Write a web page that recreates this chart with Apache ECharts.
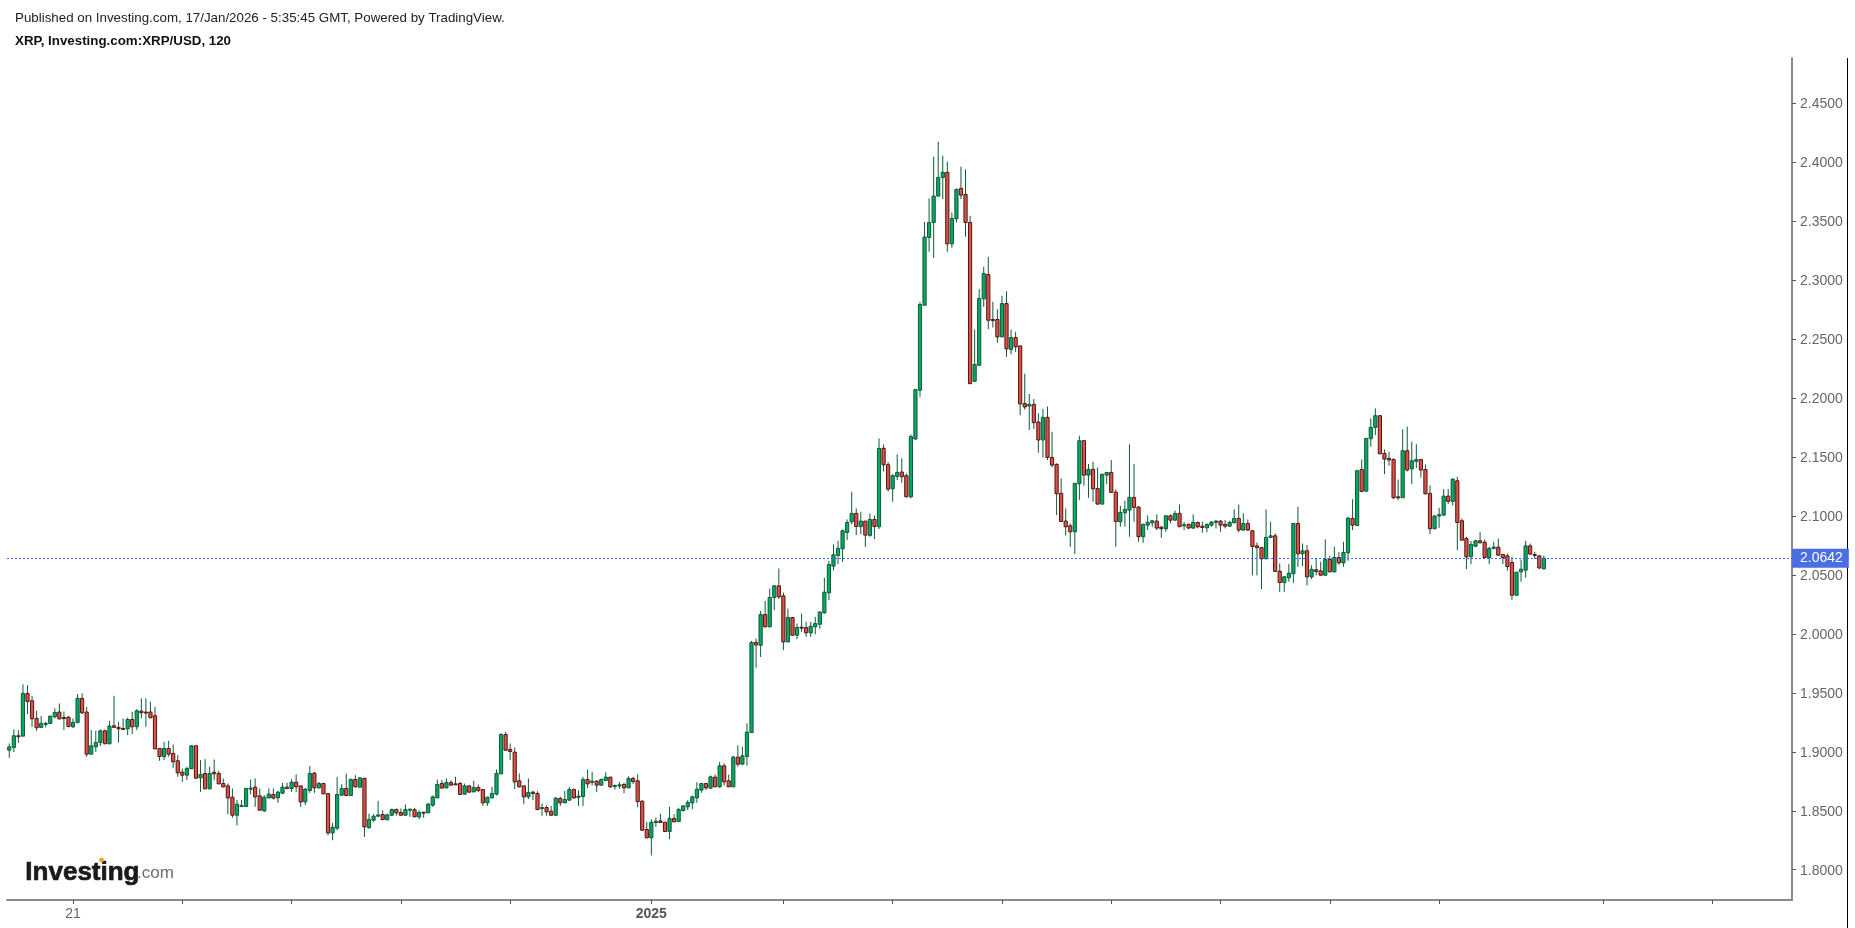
<!DOCTYPE html>
<html>
<head>
<meta charset="utf-8">
<title>XRP/USD</title>
<script src="https://cdn.jsdelivr.net/npm/echarts@6/dist/echarts.min.js"></script>
<style>
html, body { margin: 0; padding: 0; background: #fff; }
#chart { width: 1855px; height: 928px; }
</style>
</head>
<body>
<div id="chart"></div>
<script>
// 2h candles, oldest first
var opens = [
1.9014,1.9037,1.9136,1.9133,1.9495,1.9433,1.9283,1.9207,1.9235,1.9241,
1.9297,1.9337,1.9291,1.9294,1.9212,1.9249,1.9453,1.9337,1.8980,1.9042,
1.9079,1.9178,1.9068,1.9221,1.9207,1.9198,1.9195,1.9274,1.9212,1.9345,
1.9337,1.9337,1.9306,1.9028,1.8960,1.9028,1.8986,1.8924,1.8827,1.8802,
1.8856,1.9051,1.8779,1.8816,1.8686,1.8827,1.8816,1.8731,1.8711,1.8615,
1.8462,1.8536,1.8536,1.8683,1.8700,1.8626,1.8499,1.8609,1.8638,1.8609,
1.8649,1.8700,1.8689,1.8742,1.8711,1.8575,1.8672,1.8819,1.8694,1.8731,
1.8646,1.8312,1.8352,1.8632,1.8689,1.8629,1.8765,1.8700,1.8776,1.8358,
1.8420,1.8454,1.8468,1.8423,1.8462,1.8510,1.8485,1.8462,1.8508,1.8508,
1.8448,1.8488,1.8482,1.8547,1.8609,1.8731,1.8694,1.8740,1.8728,1.8731,
1.8641,1.8711,1.8660,1.8697,1.8680,1.8567,1.8609,1.8641,1.8813,1.9147,
1.9020,1.8997,1.8754,1.8711,1.8618,1.8658,1.8646,1.8519,1.8527,1.8496,
1.8462,1.8604,1.8567,1.8590,1.8680,1.8612,1.8621,1.8765,1.8740,1.8751,
1.8717,1.8757,1.8785,1.8708,1.8711,1.8723,1.8694,1.8774,1.8754,1.8581,
1.8341,1.8270,1.8400,1.8414,1.8403,1.8324,1.8434,1.8408,1.8502,1.8533,
1.8567,1.8609,1.8675,1.8731,1.8692,1.8785,1.8703,1.8881,1.8754,1.8703,
1.8955,1.8895,1.8960,1.9164,1.9928,1.9904,2.0164,2.0060,2.0309,2.0408,
2.0323,1.9932,2.0139,1.9989,2.0057,2.0054,2.0009,2.0060,2.0082,2.0178,
2.0348,2.0575,2.0665,2.0722,2.0860,2.0951,2.1022,2.0911,2.0957,2.0835,
2.0971,2.0909,2.1574,2.1435,2.1231,2.1336,2.1373,2.1342,2.1163,2.1653,
2.2067,2.2788,2.3363,2.3490,2.3714,2.3872,2.3915,2.3309,2.3521,2.3779,
2.3728,2.3490,2.2143,2.2279,2.2842,2.3049,2.2667,2.2667,2.2519,2.2802,
2.2412,2.2514,2.2443,2.1954,2.1933,2.1947,2.1797,2.1645,2.1837,2.1497,
2.1438,2.1192,2.0957,2.0917,2.0866,2.1274,2.1639,2.1347,2.1396,2.1234,
2.1101,2.1347,2.1370,2.1203,2.0951,2.1028,2.1050,2.1158,2.1076,2.0824,
2.0923,2.0943,2.0957,2.0906,2.0892,2.1002,2.0965,2.1022,2.0917,2.0929,
2.0898,2.0946,2.0914,2.0900,2.0923,2.0946,2.0957,2.0929,2.0914,2.0943,
2.0980,2.0881,2.0937,2.0875,2.0747,2.0733,2.0637,2.0818,2.0832,2.0532,
2.0436,2.0476,2.0510,2.0937,2.0680,2.0705,2.0484,2.0544,2.0535,2.0498,
2.0631,2.0526,2.0648,2.0603,2.0688,2.0979,2.0920,2.1395,2.1211,2.1656,
2.1752,2.1851,2.1531,2.1489,2.1480,2.1163,2.1155,2.1554,2.1401,2.1463,
2.1480,2.1395,2.1192,2.0892,2.1000,2.1008,2.1169,2.1124,2.1299,2.0960,
2.0810,2.0654,2.0744,2.0790,2.0778,2.0648,2.0725,2.0736,2.0674,2.0662,
2.0606,2.0328,2.0527,2.0541,2.0747,2.0674,2.0662,2.0552
];
var closes = [
1.9042,1.9136,1.9130,1.9495,1.9427,1.9280,1.9204,1.9241,1.9241,1.9303,
1.9334,1.9280,1.9286,1.9215,1.9249,1.9453,1.9331,1.8980,1.9051,1.9079,
1.9178,1.9068,1.9218,1.9207,1.9195,1.9192,1.9274,1.9212,1.9348,1.9331,
1.9331,1.9289,1.9025,1.8960,1.9028,1.8980,1.8915,1.8822,1.8802,1.8858,
1.9051,1.8776,1.8808,1.8686,1.8816,1.8813,1.8728,1.8703,1.8609,1.8462,
1.8556,1.8544,1.8689,1.8692,1.8618,1.8505,1.8615,1.8641,1.8607,1.8658,
1.8700,1.8689,1.8742,1.8703,1.8575,1.8683,1.8816,1.8694,1.8731,1.8643,
1.8312,1.8360,1.8638,1.8689,1.8629,1.8765,1.8703,1.8779,1.8363,1.8425,
1.8454,1.8465,1.8425,1.8465,1.8510,1.8482,1.8462,1.8510,1.8513,1.8448,
1.8485,1.8482,1.8556,1.8618,1.8723,1.8692,1.8740,1.8717,1.8723,1.8638,
1.8711,1.8658,1.8697,1.8672,1.8567,1.8615,1.8646,1.8816,1.9147,1.9014,
1.9003,1.8745,1.8703,1.8618,1.8655,1.8646,1.8510,1.8527,1.8491,1.8462,
1.8607,1.8567,1.8595,1.8680,1.8609,1.8624,1.8765,1.8728,1.8751,1.8717,
1.8765,1.8785,1.8703,1.8714,1.8720,1.8694,1.8774,1.8748,1.8578,1.8335,
1.8270,1.8403,1.8411,1.8400,1.8324,1.8434,1.8406,1.8510,1.8541,1.8570,
1.8618,1.8683,1.8731,1.8694,1.8788,1.8703,1.8881,1.8745,1.8703,1.8955,
1.8895,1.8966,1.9167,1.9928,1.9906,2.0164,2.0060,2.0309,2.0408,2.0314,
1.9932,2.0139,1.9989,2.0054,2.0051,2.0009,2.0065,2.0088,2.0184,2.0354,
2.0589,2.0671,2.0725,2.0875,2.0945,2.1022,2.0911,2.0957,2.0838,2.0971,
2.0911,2.1574,2.1435,2.1228,2.1342,2.1370,2.1333,2.1163,2.1673,2.2072,
2.2794,2.3366,2.3490,2.3714,2.3872,2.3915,2.3309,2.3524,2.3770,2.3722,
2.3490,2.2123,2.2285,2.2845,2.3057,2.2661,2.2658,2.2519,2.2802,2.2418,
2.2514,2.2435,2.1951,2.1925,2.1947,2.1792,2.1645,2.1837,2.1497,2.1432,
2.1189,2.0954,2.0909,2.0866,2.1277,2.1639,2.1347,2.1396,2.1231,2.1101,
2.1353,2.1370,2.1200,2.0954,2.1031,2.1056,2.1158,2.1073,2.0824,2.0929,
2.0946,2.0960,2.0898,2.0892,2.1002,2.0965,2.1022,2.0909,2.0926,2.0898,
2.0946,2.0909,2.0903,2.0929,2.0948,2.0957,2.0923,2.0914,2.0946,2.0980,
2.0881,2.0937,2.0881,2.0742,2.0731,2.0637,2.0818,2.0832,2.0530,2.0436,
2.0484,2.0515,2.0937,2.0680,2.0705,2.0484,2.0547,2.0530,2.0498,2.0631,
2.0526,2.0648,2.0603,2.0691,2.0982,2.0923,2.1384,2.1209,2.1659,2.1752,
2.1851,2.1528,2.1483,2.1475,2.1155,2.1155,2.1554,2.1390,2.1469,2.1480,
2.1390,2.1189,2.0892,2.1000,2.1011,2.1169,2.1124,2.1313,2.0945,2.0795,
2.0654,2.0759,2.0790,2.0773,2.0648,2.0725,2.0736,2.0668,2.0648,2.0572,
2.0328,2.0524,2.0549,2.0747,2.0677,2.0668,2.0560,2.0642
];
var lows = [
1.8949,1.8999,1.9076,1.9133,1.9320,1.9212,1.9178,1.9207,1.9207,1.9235,
1.9283,1.9274,1.9184,1.9207,1.9201,1.9241,1.9320,1.8958,1.8980,1.8999,
1.9048,1.9065,1.9065,1.9207,1.9079,1.9190,1.9141,1.9150,1.9184,1.9283,
1.9212,1.9283,1.9025,1.8924,1.8929,1.8958,1.8864,1.8788,1.8745,1.8759,
1.8856,1.8771,1.8660,1.8683,1.8683,1.8759,1.8725,1.8697,1.8471,1.8440,
1.8375,1.8533,1.8533,1.8641,1.8533,1.8502,1.8488,1.8604,1.8595,1.8567,
1.8641,1.8683,1.8660,1.8658,1.8533,1.8547,1.8652,1.8652,1.8689,1.8641,
1.8292,1.8250,1.8335,1.8632,1.8626,1.8626,1.8697,1.8697,1.8278,1.8346,
1.8406,1.8448,1.8420,1.8420,1.8457,1.8459,1.8459,1.8459,1.8448,1.8448,
1.8428,1.8440,1.8482,1.8533,1.8609,1.8689,1.8689,1.8714,1.8717,1.8632,
1.8638,1.8652,1.8658,1.8658,1.8541,1.8541,1.8607,1.8629,1.8810,1.9008,
1.8929,1.8683,1.8697,1.8556,1.8598,1.8590,1.8505,1.8457,1.8457,1.8457,
1.8454,1.8541,1.8564,1.8584,1.8601,1.8541,1.8541,1.8692,1.8714,1.8658,
1.8711,1.8751,1.8694,1.8680,1.8686,1.8649,1.8694,1.8725,1.8530,1.8329,
1.8267,1.8120,1.8363,1.8397,1.8321,1.8259,1.8403,1.8406,1.8493,1.8505,
1.8513,1.8567,1.8652,1.8675,1.8686,1.8700,1.8694,1.8714,1.8700,1.8703,
1.8873,1.8895,1.8884,1.9161,1.9713,1.9805,2.0054,2.0060,2.0201,2.0295,
1.9862,1.9932,1.9986,1.9955,2.0017,1.9975,1.9975,1.9997,2.0043,2.0173,
2.0286,2.0538,2.0592,2.0611,2.0795,2.0931,2.0838,2.0846,2.0739,2.0824,
2.0804,2.0889,2.1378,2.1206,2.1121,2.1305,2.1282,2.1158,2.1149,2.1650,
2.2010,2.2788,2.3241,2.3190,2.3708,2.3688,2.3241,2.3275,2.3490,2.3688,
2.3369,2.2118,2.2137,2.2276,2.2774,2.2585,2.2599,2.2469,2.2519,2.2350,
2.2372,2.2392,2.1855,2.1903,2.1730,2.1738,2.1537,2.1497,2.1475,2.1413,
2.1008,2.0951,2.0835,2.0739,2.0677,2.1135,2.1257,2.1155,2.1121,2.1098,
2.1101,2.1271,2.1197,2.0739,2.0909,2.0909,2.0824,2.0951,2.0781,2.0773,
2.0881,2.0909,2.0881,2.0815,2.0866,2.0937,2.0960,2.0909,2.0881,2.0889,
2.0889,2.0895,2.0858,2.0863,2.0909,2.0895,2.0866,2.0895,2.0909,2.0937,
2.0861,2.0875,2.0875,2.0496,2.0496,2.0380,2.0634,2.0815,2.0527,2.0357,
2.0357,2.0442,2.0433,2.0569,2.0575,2.0411,2.0465,2.0496,2.0490,2.0495,
2.0524,2.0524,2.0583,2.0569,2.0620,2.0880,2.0914,2.1206,2.1206,2.1588,
2.1687,2.1523,2.1356,2.1427,2.1143,2.1135,2.1155,2.1378,2.1271,2.1407,
2.1325,2.1183,2.0846,2.0889,2.0900,2.1002,2.1101,2.1090,2.0711,2.0795,
2.0549,2.0592,2.0739,2.0767,2.0645,2.0592,2.0716,2.0665,2.0592,2.0535,
2.0286,2.0326,2.0442,2.0478,2.0671,2.0637,2.0549,2.0549
];
var highs = [
1.9071,1.9190,1.9184,1.9572,1.9566,1.9475,1.9348,1.9303,1.9255,1.9303,
1.9368,1.9410,1.9342,1.9303,1.9283,1.9490,1.9495,1.9382,1.9184,1.9178,
1.9190,1.9190,1.9263,1.9475,1.9255,1.9283,1.9289,1.9340,1.9362,1.9453,
1.9453,1.9424,1.9382,1.9028,1.9085,1.9093,1.9062,1.8972,1.8858,1.8873,
1.9051,1.9051,1.8929,1.8938,1.8873,1.8935,1.8839,1.8774,1.8731,1.8689,
1.8590,1.8590,1.8689,1.8765,1.8774,1.8689,1.8632,1.8689,1.8689,1.8669,
1.8737,1.8737,1.8768,1.8808,1.8711,1.8694,1.8881,1.8830,1.8745,1.8731,
1.8646,1.8397,1.8788,1.8725,1.8816,1.8774,1.8802,1.8788,1.8776,1.8476,
1.8471,1.8584,1.8505,1.8476,1.8519,1.8519,1.8519,1.8553,1.8519,1.8525,
1.8505,1.8488,1.8567,1.8629,1.8765,1.8759,1.8774,1.8759,1.8788,1.8745,
1.8731,1.8717,1.8754,1.8723,1.8680,1.8618,1.8703,1.8850,1.9156,1.9167,
1.9071,1.9037,1.8816,1.8711,1.8774,1.8669,1.8666,1.8561,1.8547,1.8541,
1.8618,1.8618,1.8669,1.8703,1.8689,1.8674,1.8788,1.8850,1.8830,1.8759,
1.8774,1.8827,1.8788,1.8723,1.8745,1.8737,1.8793,1.8788,1.8808,1.8590,
1.8406,1.8428,1.8442,1.8476,1.8403,1.8533,1.8471,1.8525,1.8547,1.8590,
1.8629,1.8742,1.8731,1.8737,1.8799,1.8808,1.8915,1.8901,1.8808,1.8966,
1.9054,1.9042,1.9241,1.9940,1.9960,2.0195,2.0280,2.0385,2.0413,2.0555,
2.0351,2.0215,2.0139,2.0088,2.0173,2.0102,2.0102,2.0145,2.0195,2.0476,
2.0620,2.0759,2.0790,2.0886,2.0971,2.1206,2.1064,2.1036,2.0957,2.1022,
2.1005,2.1659,2.1608,2.1458,2.1356,2.1523,2.1489,2.1361,2.1692,2.2072,
2.2817,2.3496,2.3694,2.4048,2.4175,2.4056,2.4005,2.3575,2.3779,2.3963,
2.3940,2.3547,2.2582,2.2924,2.3114,2.3199,2.2817,2.2754,2.2868,2.2907,
2.2582,2.2562,2.2443,2.2208,2.2035,2.1993,2.1871,2.1908,2.1928,2.1715,
2.1447,2.1319,2.1064,2.0937,2.1277,2.1681,2.1645,2.1441,2.1461,2.1413,
2.1362,2.1370,2.1475,2.1226,2.1087,2.1130,2.1608,2.1441,2.1084,2.0937,
2.1005,2.0965,2.1014,2.0914,2.1008,2.1014,2.1045,2.1098,2.0951,2.0937,
2.1014,2.0951,2.0951,2.0937,2.0957,2.0965,2.0965,2.0965,2.0957,2.1056,
2.1098,2.1022,2.0971,2.0875,2.0776,2.0733,2.1056,2.0951,2.0852,2.0598,
2.0493,2.0592,2.0937,2.1079,2.0767,2.0753,2.0583,2.0646,2.0612,2.0801,
2.0660,2.0739,2.0694,2.0781,2.0993,2.1143,2.1390,2.1480,2.1659,2.1828,
2.1913,2.1851,2.1565,2.1545,2.1489,2.1310,2.1735,2.1758,2.1630,2.1610,
2.1480,2.1438,2.1260,2.1008,2.1070,2.1228,2.1228,2.1319,2.1333,2.0979,
2.0824,2.0787,2.0795,2.0866,2.0801,2.0739,2.0781,2.0810,2.0674,2.0682,
2.0654,2.0524,2.0631,2.0790,2.0767,2.0696,2.0668,2.0665
];
var lastPrice = 2.0642;
var slotCount = 392;                 // candles plus the empty room on the right
var priceTicks = [1.80, 1.85, 1.90, 1.95, 2.00, 2.05, 2.10, 2.15, 2.20, 2.25, 2.30, 2.35, 2.40, 2.45];
var timeTickSlots = [14, 38, 62, 86, 110, 141, 170, 194, 218, 242, 266, 290, 314, 350, 374];
var timeTickLabels = {14: '21', 141: '2025'};

var slots = [];
for (var s = 0; s < slotCount; s++) {
    slots.push(s);
}
var candles = opens.map(function (o, i) {
    return [i, o, closes[i], lows[i], highs[i]];
});

var UP_FILL = '#08a865', UP_EDGE = '#0c5a38';
var DOWN_FILL = '#d9534a', DOWN_EDGE = '#561410';
var WICK = '#0d5c3a';
var FONT = '"Liberation Sans", Arial, sans-serif';

// custom candle: ECharts' own candlestick can't give a red body a green wick
function renderCandle(params, api) {
    var i = api.value(0);
    var o = api.coord([i, api.value(1)]);
    var c = api.coord([i, api.value(2)]);
    var l = api.coord([i, api.value(3)]);
    var h = api.coord([i, api.value(4)]);
    var up = api.value(2) >= api.value(1);
    var top = Math.min(o[1], c[1]);
    var bottom = Math.max(o[1], c[1]);
    return {
        type: 'group',
        children: [{
            type: 'line',
            shape: {x1: o[0], y1: h[1], x2: o[0], y2: l[1]},
            style: {stroke: WICK, lineWidth: 1}
        }, {
            type: 'rect',
            shape: {x: o[0] - 1.6, y: top, width: 3.2, height: Math.max(bottom - top, 1)},
            style: {fill: up ? UP_FILL : DOWN_FILL, stroke: up ? UP_EDGE : DOWN_EDGE, lineWidth: 1}
        }]
    };
}

var myChart = echarts.init(document.getElementById('chart'), null, {renderer: 'canvas'});

var option = {
    animation: false,
    backgroundColor: '#fff',
    title: [{
        text: 'Published on Investing.com, 17/Jan/2026 - 5:35:45 GMT, Powered by TradingView.',
        left: 15, top: 12, padding: 0,
        textStyle: {fontFamily: FONT, fontSize: 13.33, fontWeight: 'normal', color: '#222'}
    }, {
        text: 'XRP, Investing.com:XRP/USD, 120',
        left: 15, top: 35, padding: 0,
        textStyle: {fontFamily: FONT, fontSize: 13.33, fontWeight: 'bold', color: '#111'}
    }],
    grid: {left: 7, right: 63, top: 58, bottom: 28},
    xAxis: {
        type: 'category',
        data: slots,
        boundaryGap: true,
        axisLine: {lineStyle: {color: '#8a8a8a', width: 2}},
        axisTick: {
            show: true,
            alignWithLabel: true,
            length: 4,
            lineStyle: {color: '#555'},
            interval: function (index) {
                return timeTickSlots.indexOf(index) >= 0;
            }
        },
        axisLabel: {
            margin: 7,
            color: '#666',
            fontFamily: FONT,
            fontSize: 14,
            interval: function (index) {
                return timeTickLabels[index] !== undefined;
            },
            formatter: function (value) {
                var t = timeTickLabels[value];
                return t === '2025' ? '{year|2025}' : t;
            },
            rich: {year: {fontWeight: 'bold', fontSize: 14, color: '#555', fontFamily: FONT}}
        },
        splitLine: {show: false}
    },
    yAxis: {
        type: 'value',
        position: 'right',
        min: 1.7743,
        max: 2.4885,
        axisLine: {show: true, lineStyle: {color: '#8a8a8a', width: 2}},
        axisTick: {show: true, length: 4, lineStyle: {color: '#555'}, customValues: priceTicks},
        axisLabel: {
            margin: 8,
            customValues: priceTicks,
            formatter: function (v) {
                return '{v|' + v.toFixed(4) + '}';
            },
            rich: {v: {padding: [2, 0, 0, 0], color: '#666', fontFamily: FONT, fontSize: 14}}
        },
        splitLine: {show: false}
    },
    series: [{
        type: 'custom',
        name: 'XRP/USD',
        renderItem: renderCandle,
        encode: {x: 0, y: [1, 2, 3, 4]},
        data: candles,
        clip: true,
        markLine: {
            silent: true,
            symbol: 'none',
            animation: false,
            precision: 4,
            lineStyle: {color: '#3f62e6', type: [2, 2], width: 1, opacity: 1},
            label: {
                position: 'end',
                distance: 0,
                formatter: function () {
                    return lastPrice.toFixed(4);
                },
                color: '#fff',
                fontFamily: FONT,
                fontSize: 14,
                backgroundColor: '#4a6ee6',
                padding: [3, 6, 2, 8]
            },
            data: [{yAxis: lastPrice}]
        }
    }],
    graphic: [{
        // frame line at the right edge
        type: 'line',
        shape: {x1: 1847.5, y1: 58, x2: 1847.5, y2: 928},
        style: {stroke: '#000', lineWidth: 1}
    }, {
        type: 'text',
        left: 25, top: 859,
        style: {
            text: 'Investing', fontFamily: FONT, fontSize: 26, fontWeight: 'bold',
            fill: '#1a1a1a', stroke: '#1a1a1a', lineWidth: 0.7
        }
    }, {
        type: 'text',
        left: 137, top: 865,
        style: {text: '.com', fontFamily: FONT, fontSize: 17, fill: '#6e6e6e'}
    }, {
        type: 'circle',
        shape: {cx: 101.5, cy: 860, r: 2.4},
        style: {fill: '#f5a623'}
    }]
};

myChart.setOption(option, true);
window.onresize = function () {
    myChart.resize();
};
</script>
</body>
</html>
